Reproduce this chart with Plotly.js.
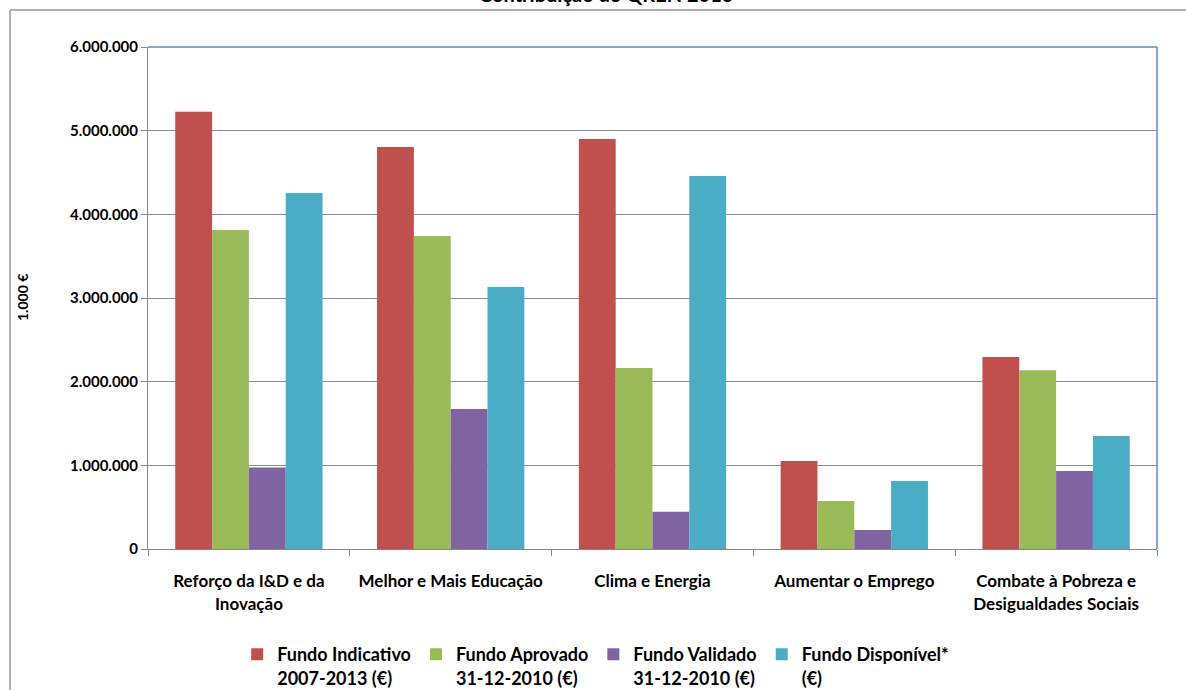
<!DOCTYPE html>
<html>
<head>
<meta charset="utf-8">
<script src="https://cdn.plot.ly/plotly-3.0.1.min.js"></script>
<style>html,body{margin:0;padding:0;background:#fff;}#chart{width:1186px;height:690px;}</style>
</head>
<body>
<div id="chart"></div>
<script>
const categories = [
  "Reforço da I&D e da<br>Inovação",
  "Melhor e Mais Educação",
  "Clima e Energia",
  "Aumentar o Emprego",
  "Combate à Pobreza e<br>Desigualdades Sociais"
];
const seriesNames = [
  "Fundo Indicativo<br>2007-2013 (€)",
  "Fundo Aprovado<br>31-12-2010 (€)",
  "Fundo Validado<br>31-12-2010 (€)",
  "Fundo Disponível*<br>(€)"
];
const fundoIndicativo = [5225000, 4805000, 4900000, 1052000, 2295000];
const fundoAprovado   = [3813000, 3741000, 2163000, 574000, 2135000];
const fundoValidado   = [975000, 1673000, 445000, 227000, 932000];
const fundoDisponivel = [4255000, 3131000, 4458000, 813000, 1350000];
const colors = ["#c0504d", "#9bbb59", "#8064a2", "#4bacc6"];
const titleText = "Contribuição do QREN 2013";
const yTitle = "1.000 €";

const FONT = "Lato, 'Open Sans', sans-serif";
const allValues = [fundoIndicativo, fundoAprovado, fundoValidado, fundoDisponivel];
const data = allValues.map((vals, i) => ({
  type: "bar",
  name: seriesNames[i],
  x: categories,
  y: vals,
  marker: {color: colors[i]},
  hoverinfo: "skip"
}));

const W = 1186, H = 690, L = 148, R = 29, T = 47, B = 141;
const pw = W - L - R, ph = H - T - B;
const px = (x) => (x - L) / pw;
const py = (y) => (H - B - y) / ph;

const layout = {
  width: W, height: H,
  margin: {l: L, r: R, t: T, b: B},
  paper_bgcolor: "#ffffff",
  plot_bgcolor: "#ffffff",
  separators: ",.",
  barmode: "group",
  bargap: 0.27,
  bargroupgap: 0,
  font: {family: FONT, color: "#000000"},
  showlegend: true,
  legend: {
    orientation: "h",
    xref: "container", yref: "container",
    x: 0.2, xanchor: "left",
    y: 1 - 636 / H, yanchor: "top",
    font: {family: FONT, size: 18, color: "#000", weight: "bold"},
    valign: "top",
    itemwidth: 12,
    tracegroupgap: 0,
    traceorder: "normal"
  },
  xaxis: {
    type: "category",
    showgrid: false,
    showline: true,
    linecolor: "#868686",
    linewidth: 1,
    ticks: "outside",
    tickson: "boundaries",
    ticklen: 6,
    tickcolor: "#868686",
    tickangle: 0,
    ticklabelstandoff: 17,
    tickfont: {family: FONT, size: 17, color: "#000", weight: "bold"},
    fixedrange: true,
    automargin: false
  },
  yaxis: {
    range: [0, 6000000],
    tickvals: [0, 1000000, 2000000, 3000000, 4000000, 5000000, 6000000],
    tickformat: ",d",
    showgrid: true,
    gridcolor: "#8c8c8c",
    gridwidth: 1,
    zeroline: false,
    showline: true,
    linecolor: "#868686",
    ticks: "outside",
    ticklen: 6,
    tickcolor: "#868686",
    tickfont: {family: FONT, size: 15, color: "#000", weight: "bold"},
    fixedrange: true,
    automargin: false
  },
  shapes: [
    {type: "line", xref: "paper", yref: "paper", x0: 0, x1: 1, y0: 1, y1: 1, line: {color: "#5b8cc8", width: 1.5}},
    {type: "line", xref: "paper", yref: "paper", x0: 1, x1: 1, y0: 0, y1: 1, line: {color: "#5b8cc8", width: 1.5}},
    {type: "line", xref: "paper", yref: "paper", x0: px(10), x1: px(1200), y0: py(10), y1: py(10), line: {color: "#b0b0b0", width: 2}},
    {type: "line", xref: "paper", yref: "paper", x0: px(10), x1: px(10), y0: py(10), y1: py(700), line: {color: "#b0b0b0", width: 2}}
  ],
  annotations: [
    {text: titleText, xref: "paper", yref: "paper", x: px(606), y: py(-6), xanchor: "center", yanchor: "middle",
     showarrow: false, font: {family: FONT, size: 20, color: "#000", weight: "bold"}},
    {text: yTitle, xref: "paper", yref: "paper", x: px(22), y: py(298), xanchor: "center", yanchor: "middle",
     textangle: -90, showarrow: false, font: {family: FONT, size: 14, color: "#000", weight: "bold"}}
  ]
};

Plotly.newPlot("chart", data, layout, {displayModeBar: false, staticPlot: true});
</script>
</body>
</html>
